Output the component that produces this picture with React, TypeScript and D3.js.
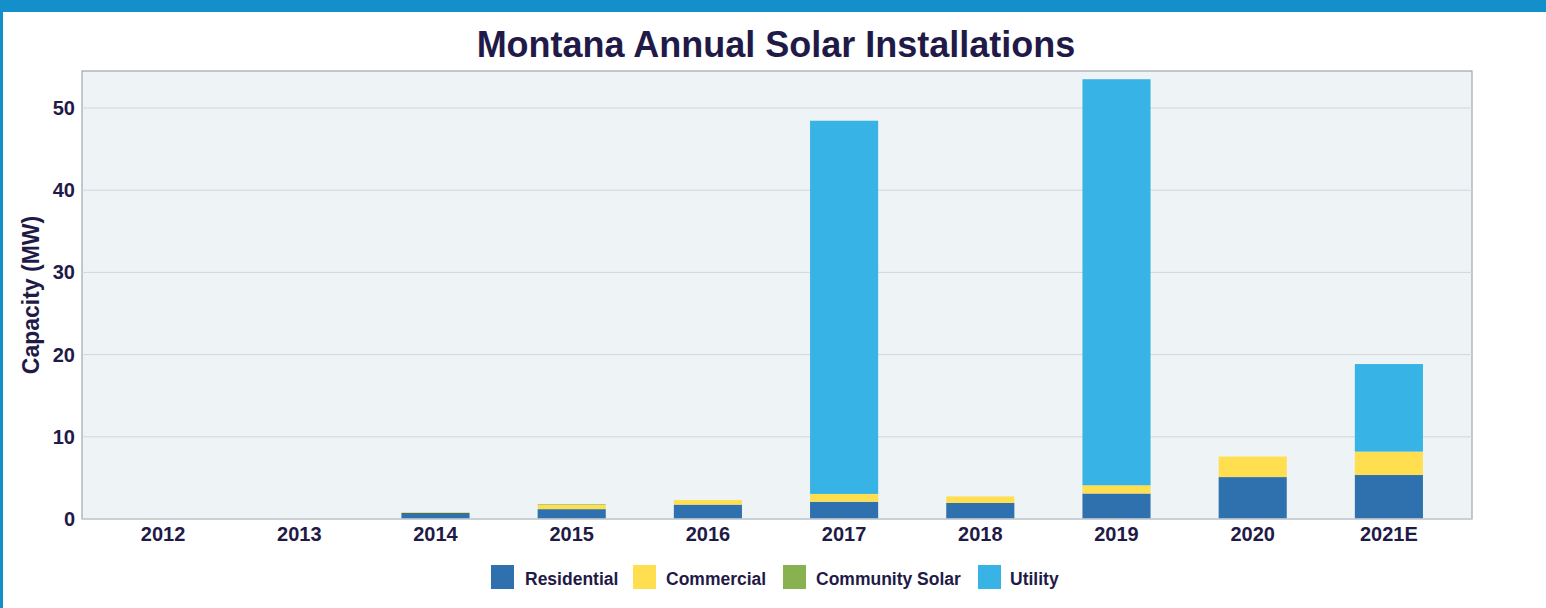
import React from "react";
import * as d3 from "d3";

const categories = ["2012", "2013", "2014", "2015", "2016", "2017", "2018", "2019", "2020", "2021E"];
const residential = [0, 0, 0.75, 1.2, 1.75, 2.1, 1.95, 3.1, 5.1, 5.35];
const commercial = [0, 0, 0.1, 0.55, 0.55, 0.95, 0.8, 1.0, 2.5, 2.85];
const communitySolar = [0, 0, 0, 0.07, 0, 0, 0, 0, 0, 0];
const utility = [0, 0, 0, 0, 0, 45.4, 0, 49.4, 0, 10.65];
const yTicks = [0, 10, 20, 30, 40, 50];
const seriesNames = ["Residential", "Commercial", "Community Solar", "Utility"];
const seriesColors = ["#2f70ae", "#ffdf4f", "#88b24f", "#38b3e5"];

const W = 1546;
const H = 608;
const plot = { left: 82, top: 71, right: 1472, bottom: 519 };
const textColor = "#1f1a47";
const font = "'Liberation Sans', Arial, sans-serif";

export default function App() {
  const rows = categories.map((c, i) => ({
    cat: c,
    Residential: residential[i],
    Commercial: commercial[i],
    "Community Solar": communitySolar[i],
    Utility: utility[i],
  }));
  const stack = d3.stack<any>().keys(seriesNames)(rows);
  const x = d3.scaleBand().domain(categories).range([95, 1457]).paddingInner(0.5).paddingOuter(0.25);
  const y = d3.scaleLinear().domain([0, 54.5]).range([plot.bottom, plot.top]);

  const legendItems = [
    { x: 491, tx: 525 },
    { x: 633, tx: 666 },
    { x: 783, tx: 816 },
    { x: 978, tx: 1010 },
  ];

  return (
    <svg width={W} height={H} style={{ position: "absolute", left: 0, top: 0, display: "block" }}>
      <rect x={0} y={0} width={W} height={H} fill="#ffffff" />
      <rect x={0} y={0} width={W} height={12} fill="#138fc9" />
      <rect x={0} y={0} width={3} height={H} fill="#138fc9" />
      <text x={776} y={57} textAnchor="middle" fontFamily={font} fontWeight="bold" fontSize={36} fill={textColor}>
        Montana Annual Solar Installations
      </text>
      <rect x={plot.left} y={plot.top} width={plot.right - plot.left} height={plot.bottom - plot.top} fill="#eef3f6" stroke="#8c96a0" strokeWidth={1} />
      {yTicks.map((t) => (
        <g key={t}>
          {t > 0 && (
            <line x1={plot.left} x2={plot.right} y1={y(t)} y2={y(t)} stroke="#d2d6da" strokeWidth={1} />
          )}
          <text x={75} y={y(t) + 7} textAnchor="end" fontFamily={font} fontWeight="bold" fontSize={20} fill={textColor}>
            {t}
          </text>
        </g>
      ))}
      {stack.map((s, si) => (
        <g key={s.key} fill={seriesColors[si]}>
          {s.map((d, i) => {
            const h = y(d[0]) - y(d[1]);
            if (h <= 0) return null;
            return (
              <rect key={i} x={x(categories[i])} y={y(d[1])} width={x.bandwidth()} height={h} />
            );
          })}
        </g>
      ))}
      <line x1={plot.left} x2={plot.right} y1={plot.bottom} y2={plot.bottom} stroke="#cfd3d7" strokeWidth={1.5} />
      {categories.map((c) => (
        <text key={c} x={(x(c) as number) + x.bandwidth() / 2} y={541} textAnchor="middle" fontFamily={font} fontWeight="bold" fontSize={20} fill={textColor}>
          {c}
        </text>
      ))}
      <text transform={`translate(39,295) rotate(-90)`} textAnchor="middle" fontFamily={font} fontWeight="bold" fontSize={23} fill={textColor}>
        Capacity (MW)
      </text>
      {seriesNames.map((n, i) => (
        <g key={n}>
          <rect x={legendItems[i].x} y={565} width={23} height={24} fill={seriesColors[i]} />
          <text x={legendItems[i].tx} y={585} fontFamily={font} fontWeight="bold" fontSize={17.5} fill={textColor}>
            {n}
          </text>
        </g>
      ))}
    </svg>
  );
}
